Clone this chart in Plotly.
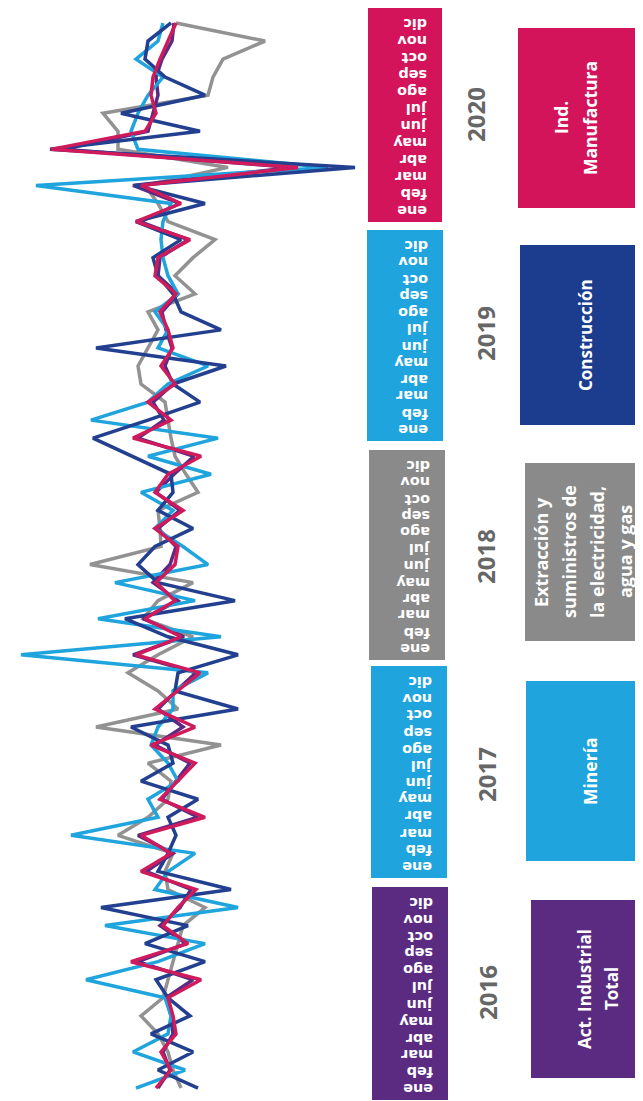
import plotly.graph_objects as go

W, H = 643, 1101

# ---------------- data ----------------
meses = ["ene", "feb", "mar", "abr", "may", "jun", "jul", "ago", "sep", "oct", "nov", "dic"]
anios = ["2016", "2017", "2018", "2019", "2020"]

# monthly variation (%), ene-2016 ... dic-2020
act_industrial_total = [1.0, -0.2, 0.5, -0.5, -0.3, 0.2, -2.5, 3.0, -1.8, 0.8, -1.2, -2.3,
                        2.2, -0.5, 3.0, -3.0, 0.6, -0.8, -2.2, 1.3, -1.5, 1.0, -0.8, -2.8,
                        3.5, -1.6, 2.5, -1.0, 1.5, -0.2, -0.8, 1.0, -1.2, 1.2, -0.6, -2.6,
                        3.0, 0.4, 1.5, -0.5, 0.3, -0.4, 0.2, 0.6, -1.0, 1.0, 0.8, -2.0,
                        2.8, -1.2, 3.5, -12.5, 10.5, 2.0, 1.5, 1.0, 1.2, 0.6, -0.4, -0.6]

mineria = [3.2, -1.7, 3.5, 0.0, -0.3, 0.3, 8.2, 1.0, -3.7, 6.3, -7.0, 1.3,
           0.0, -2.7, 9.7, 1.0, 2.0, -1.0, 0.0, 1.7, 1.0, -0.5, -0.5, -4.0,
           14.7, -5.3, 7.0, -2.7, 5.3, -4.0, -1.5, 1.3, -0.5, 2.7, -4.3, 2.0,
           -5.0, 7.7, 2.0, 0.0, -4.0, 1.0, 0.0, 1.3, -1.0, 0.0, 0.5, 0.7,
           0.5, -0.3, 13.2, -16.0, 3.0, 3.7, 3.0, 2.0, 0.5, 3.2, 1.0, 0.5]

extraccion_elec_agua_gas = [-1.3, -0.5, 0.0, 1.0, 2.7, 0.5, 0.0, -0.5, -1.0, -1.5, -3.7, 0.0,
                            0.3, -0.5, 5.0, 2.0, 0.0, -0.3, 2.0, -5.3, 7.2, -1.0, 1.0, 4.0,
                            1.0, -2.5, 2.5, 1.0, -2.5, 7.8, 0.7, 0.8, 1.0, -3.0, -1.8, -0.7,
                            -0.3, 0.0, 0.3, 2.7, 3.0, 2.0, 1.0, 2.0, -2.7, -0.7, -2.5, -4.7,
                            0.0, 1.0, 2.3, -6.0, 5.0, 5.0, 6.5, -4.0, -4.5, -5.5, -9.7, -0.8]

construccion = [-3.0, 1.0, -2.5, 1.7, -2.2, 0.0, 1.2, -3.7, 2.3, -2.0, 6.7, -6.3,
                1.0, 0.0, -0.8, 0.0, -3.0, 2.7, -0.5, 0.0, 3.7, -7.0, -0.7, -1.0,
                -7.0, 0.0, 4.3, -6.7, 1.0, 3.0, 1.3, -2.5, 1.0, -0.5, -0.3, 3.5,
                7.5, 2.0, -3.2, -0.5, -5.8, 7.2, -5.3, -1.3, -0.5, 1.0, 1.5, -1.3,
                3.2, -3.7, 3.3, -18.7, 11.8, -3.2, 4.7, -3.7, 0.3, 2.3, 2.0, -0.3]

ind_manufactura = [1.2, -0.3, 0.7, -0.8, -0.5, 0.0, -3.3, 3.7, -2.0, 0.5, -1.0, -2.8,
                   2.7, -0.3, 2.7, -3.7, 0.8, -1.0, -2.7, 1.7, -2.7, 1.3, -1.0, -3.2,
                   3.2, -1.3, 2.3, -0.7, 1.2, -0.7, -1.0, 1.3, -1.5, 1.3, 0.0, -3.3,
                   3.5, -0.3, 2.0, -0.7, 0.7, -0.5, 0.0, 0.8, -0.8, 1.3, 1.0, -2.2,
                   3.2, -1.3, 2.7, -13.0, 11.7, 2.3, 1.2, 1.7, 1.5, 0.8, 0.0, -0.8]

nombres = ["Act. Industrial Total", "Minería",
           "Extracción y suministros de la electricidad, agua y gas",
           "Construcción", "Ind. Manufactura"]
leyenda_lineas = [["Act. Industrial", "Total"], ["Minería"],
                  ["Extracción y", "suministros de", "la electricidad,", "agua y gas"],
                  ["Construcción"], ["Ind.", "Manufactura"]]

# ---------------- style ----------------
C_PURPLE = "#5B2B82"
C_LBLUE = "#1FA4DD"
C_GRAY = "#8A8A8A"
C_NAVY = "#1C3D8E"
C_CRIMSON = "#D3145A"
line_colors = [C_PURPLE, C_LBLUE, "#929292", "#22408F", "#CF1A5C"]
box_colors = [C_PURPLE, C_LBLUE, C_GRAY, C_NAVY, C_CRIMSON]
year_colors = [C_PURPLE, C_LBLUE, C_GRAY, C_LBLUE, C_CRIMSON]


def px(x):
    return x / W


def py(y):
    return 1 - y / H


series = [act_industrial_total, mineria, extraccion_elec_agua_gas, construccion, ind_manufactura]
idx = list(range(len(act_industrial_total)))

fig = go.Figure()
order = [2, 0, 1, 3, 4]
for k in order:
    fig.add_trace(go.Scatter(x=series[k], y=idx, mode="lines", name=nombres[k],
                             line=dict(color=line_colors[k], width=3.5),
                             showlegend=False, hoverinfo="skip"))

shapes = []
annotations = []

# year month boxes (bottom = 2016 ... top = 2020)
year_boxes = [(364, 440, 879, 1092), (363, 439, 658, 870), (361, 437, 442, 652),
              (359, 435, 222, 433), (360, 434, 0, 214)]
year_text_pos = [(479, 985), (478, 767), (477, 548), (477, 325), (468, 107)]
for j, yr in enumerate(anios):
    x0, x1, top, bot = year_boxes[j]
    shapes.append(dict(type="rect", xref="paper", yref="paper", x0=px(x0), x1=px(x1),
                       y0=py(bot), y1=py(top), fillcolor=year_colors[j], line=dict(width=0),
                       layer="below"))
    y_ene = bot - 11
    y_dic = top + 16
    step = (y_ene - y_dic) / 11
    for m, mes in enumerate(meses):
        yy = y_ene - m * step
        annotations.append(dict(x=px(x1 - 13), y=py(yy), xref="paper", yref="paper",
                                text="<b>%s</b>" % mes, showarrow=False, textangle=180,
                                xanchor="right", yanchor="middle",
                                font=dict(family="DejaVu Sans", size=14.4, color="white")))
    tx, ty = year_text_pos[j]
    annotations.append(dict(x=px(tx), y=py(ty), xref="paper", yref="paper",
                            text="<b>%s</b>" % yr, showarrow=False, textangle=-90,
                            xanchor="center", yanchor="middle",
                            font=dict(family="Open Sans", size=24, color="#666666")))

# legend boxes (same order as series)
legend_boxes = [(523, 645, 892, 1070), (518, 642, 673, 853), (517, 642, 455, 633),
                (512, 640, 237, 417), (510, 636, 20, 200)]
legend_line_x = [[577, 604], [582], [533, 561, 589, 617], [577], [553, 582]]
legend_font = [17, 17.5, 18, 17, 17.5]
for k in range(5):
    x0, x1, top, bot = legend_boxes[k]
    shapes.append(dict(type="rect", xref="paper", yref="paper", x0=px(x0), x1=px(x1),
                       y0=py(bot), y1=py(top), fillcolor=box_colors[k], line=dict(width=0),
                       layer="below"))
    yc = (top + bot) / 2
    for t, txt in enumerate(leyenda_lineas[k]):
        annotations.append(dict(x=px(legend_line_x[k][t]), y=py(yc), xref="paper", yref="paper",
                                text="<b>%s</b>" % txt, showarrow=False, textangle=-90,
                                xanchor="center", yanchor="middle",
                                font=dict(family="Open Sans", size=legend_font[k], color="white")))

fig.update_layout(
    width=W, height=H,
    margin=dict(l=0, r=0, t=0, b=0),
    paper_bgcolor="white", plot_bgcolor="rgba(0,0,0,0)",
    xaxis=dict(domain=[0, 355 / W], range=[16, -19.5], visible=False, showgrid=False,
               zeroline=False),
    yaxis=dict(domain=[0, 1], range=[-1.16, 59.83], visible=False, showgrid=False,
               zeroline=False),
    shapes=shapes, annotations=annotations,
)

fig.write_html("out.html")
